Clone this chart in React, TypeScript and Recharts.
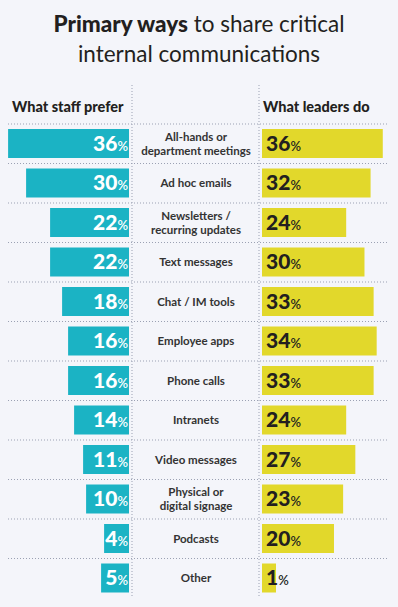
import { BarChart, Bar, XAxis, YAxis, CartesianGrid, LabelList } from 'recharts'

const categories = [
  'All-hands or\ndepartment meetings',
  'Ad hoc emails',
  'Newsletters /\nrecurring updates',
  'Text messages',
  'Chat / IM tools',
  'Employee apps',
  'Phone calls',
  'Intranets',
  'Video messages',
  'Physical or\ndigital signage',
  'Podcasts',
  'Other',
]
const staffPrefer = [36, 30, 22, 22, 18, 16, 16, 14, 11, 10, 4, 5]
const leadersDo = [36, 32, 24, 30, 33, 34, 33, 24, 27, 23, 20, 1]

const data = categories.map((name, i) => ({ name, staff: staffPrefer[i], leaders: leadersDo[i] }))

const W = 398
const H = 607
const PLOT_LEFT = 8
const PLOT_RIGHT = 387
const PLOT_TOP = 85
const PLOT_BOTTOM = 598
const HEADER_ROW = 39
const STAFF_ZERO = 129
const LEADERS_ZERO = 262
const LABEL_X = 196

// the original bars start from a small padded baseline so short values still hold their label
const STAFF_BASE = -4.3
const STAFF_PX = 3.0
const LEADERS_BASE = -3.6
const LEADERS_PX = 3.05

const TEAL = '#1bb3c4'
const YELLOW = '#e2d82b'
const INK = '#231f20'
const FONT = 'Lato, "Open Sans", sans-serif'

// hidden numeric axes, each placed so its baseline sits at the edge of the centre column
const staffDomain = [STAFF_BASE - (PLOT_RIGHT - STAFF_ZERO) / STAFF_PX, STAFF_BASE + (STAFF_ZERO - PLOT_LEFT) / STAFF_PX]
const leadersDomain = [LEADERS_BASE - (LEADERS_ZERO - PLOT_LEFT) / LEADERS_PX, LEADERS_BASE + (PLOT_RIGHT - LEADERS_ZERO) / LEADERS_PX]

const CategoryTick = (props: any) => {
  const { y, payload } = props
  const lines = String(payload.value).split('\n')
  const lh = 14
  const start = y - ((lines.length - 1) * lh) / 2 + 4
  return (
    <text x={LABEL_X} y={start} textAnchor="middle" fill="#333" fontSize={11.5} fontWeight={700} fontFamily={FONT}>
      {lines.map((l, i) => (
        <tspan key={i} x={LABEL_X} y={start + i * lh}>
          {l}
        </tspan>
      ))}
    </text>
  )
}

const makeValueLabel = (side: 'staff' | 'leaders') => (props: any) => {
  const { x, y, width, height, value } = props
  const left = Math.min(x, x + width)
  const right = Math.max(x, x + width)
  const base = y + height / 2 + 7
  const isStaff = side === 'staff'
  return (
    <text
      x={isStaff ? right - 1 : left + 4}
      y={base}
      textAnchor={isStaff ? 'end' : 'start'}
      fill={isStaff ? '#fff' : INK}
      fontFamily={FONT}
    >
      <tspan fontSize={21} fontWeight={900}>{value}</tspan>
      <tspan fontSize={13} fontWeight={600}>%</tspan>
    </text>
  )
}

export default function App() {
  return (
    <div style={{ position: 'absolute', left: 0, top: 0, width: W, height: H, background: '#f4f5fa', fontFamily: FONT, color: INK }}>
      <div style={{ position: 'absolute', top: 9, left: 0, width: W, textAlign: 'center', fontSize: 22.5, lineHeight: '30px' }}>
        <span style={{ fontWeight: 900 }}>Primary ways</span> <span style={{ fontWeight: 400 }}>to share critical</span>
        <br />
        internal communications
      </div>
      <div style={{ position: 'absolute', top: 98, left: 12, fontSize: 14.5, fontWeight: 900, lineHeight: '18px' }}>What staff prefer</div>
      <div style={{ position: 'absolute', top: 98, left: 263, fontSize: 14.5, fontWeight: 900, lineHeight: '18px' }}>What leaders do</div>
      <div style={{ position: 'absolute', left: 0, top: 0 }}>
        <BarChart
          width={W}
          height={H}
          data={data}
          layout="vertical"
          margin={{ top: PLOT_TOP, right: W - PLOT_RIGHT, bottom: H - PLOT_BOTTOM, left: 0 }}
        >
          <CartesianGrid
            yAxisId="a"
            xAxisId="staff"
            stroke="#9ba1b3"
            strokeDasharray="1 2"
            horizontalCoordinatesGenerator={({ offset }: any) => {
              const band = (offset.height - HEADER_ROW) / categories.length
              return categories.map((_, i) => offset.top + HEADER_ROW + i * band)
            }}
            verticalCoordinatesGenerator={() => [132, 259]}
          />
          <XAxis xAxisId="staff" type="number" domain={staffDomain} reversed hide />
          <XAxis xAxisId="leaders" type="number" domain={leadersDomain} hide />
          <YAxis
            yAxisId="a"
            type="category"
            dataKey="name"
            width={PLOT_LEFT}
            padding={{ top: HEADER_ROW, bottom: 0 }}
            axisLine={false}
            tickLine={false}
            interval={0}
            tick={(p: any) => <CategoryTick {...p} />}
          />
          <YAxis yAxisId="b" type="category" dataKey="name" width={0} padding={{ top: HEADER_ROW, bottom: 0 }} hide />
          <Bar
            dataKey={(d: any) => [STAFF_BASE, d.staff]}
            xAxisId="staff"
            yAxisId="a"
            fill={TEAL}
            barSize={29}
            isAnimationActive={false}
          >
            <LabelList dataKey="staff" content={makeValueLabel('staff')} />
          </Bar>
          <Bar
            dataKey={(d: any) => [LEADERS_BASE, d.leaders]}
            xAxisId="leaders"
            yAxisId="b"
            fill={YELLOW}
            barSize={29}
            isAnimationActive={false}
          >
            <LabelList dataKey="leaders" content={makeValueLabel('leaders')} />
          </Bar>
        </BarChart>
      </div>
    </div>
  )
}
